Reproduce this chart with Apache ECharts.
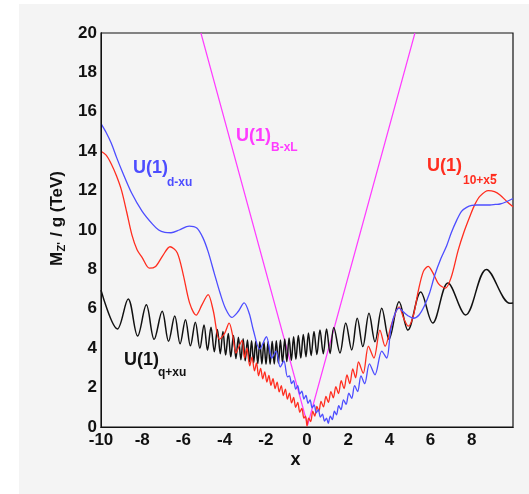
<!DOCTYPE html>
<html>
<head>
<meta charset="utf-8">
<script src="https://cdn.jsdelivr.net/npm/echarts@6/dist/echarts.min.js"></script>
<style>
  html, body { margin: 0; padding: 0; background: #ffffff; }
  #panel { position: absolute; left: 19px; top: 4px; width: 510px; height: 490px; background: #f4f4f4; }
  .layer { position: absolute; left: 0; top: 0; width: 529px; height: 494px; }
</style>
</head>
<body>
<div id="panel"></div>
<div class="layer" id="axes"></div>
<div class="layer" id="curves"></div>
<div class="layer" id="ticks"></div>
<script>
// Axis ranges and ticks
const xRange = [-10, 10];
const yRange = [0, 20];
const tickStep = 2;

// U(1)_{B-xL}: straight V
const pinkBxl = [[-5.15, 20], [0.03, 0.1], [5.24, 20]];

// U(1)_{d-xu}
const blueDxu = [
  [-10, 15.4], [-9.75, 14.95], [-9.5, 14.4], [-9.25, 13.7], [-9.0, 13.05], [-8.5, 11.85],
  [-8.0, 10.95], [-7.5, 10.3], [-7.2, 10.0], [-6.9, 9.88], [-6.6, 9.86], [-6.2, 10.0],
  [-5.72, 10.2], [-5.35, 10.1], [-5.05, 9.6], [-4.8, 8.9], [-4.5, 7.8], [-4.22, 6.8],
  [-3.95, 6.0], [-3.65, 5.56], [-3.35, 5.85], [-3.05, 6.3], [-2.8, 5.75], [-2.6, 4.9],
  [-2.3, 3.95], [-1.97, 4.58], [-1.71, 3.5], [-1.5, 3.85], [-1.3, 3.05], [-1.12, 3.35],
  [-0.95, 2.55], [-0.85, 2.6], [-0.75, 2.2], [-0.65, 2.35], [-0.55, 1.92], [-0.45, 2.1],
  [-0.35, 1.67], [-0.25, 1.82], [-0.15, 1.42], [-0.05, 1.6], [0.05, 1.2], [0.15, 1.38],
  [0.25, 0.97], [0.35, 1.12], [0.45, 0.72], [0.55, 0.88], [0.65, 0.5], [0.75, 0.65],
  [0.85, 0.3], [0.95, 0.45], [1.03, 0.18], [1.13, 0.55], [1.23, 0.38], [1.33, 0.8],
  [1.43, 0.62], [1.54, 1.08], [1.65, 0.88], [1.77, 1.38], [1.9, 1.15], [2.03, 1.72],
  [2.17, 1.45], [2.31, 2.1], [2.46, 1.8], [2.62, 2.6], [2.8, 2.2], [3.03, 3.2],
  [3.3, 2.65], [3.63, 3.85], [3.87, 3.5], [4.06, 4.9], [4.25, 5.7], [4.47, 6.03],
  [4.7, 5.82], [4.9, 5.65], [5.17, 5.52], [5.45, 5.7], [5.7, 6.15], [5.95, 6.8],
  [6.2, 7.7], [6.5, 8.55], [6.78, 9.2], [7.0, 9.85], [7.27, 10.5], [7.5, 10.95],
  [7.75, 11.15], [8.0, 11.25], [8.24, 11.27], [8.6, 11.27], [8.88, 11.27], [9.15, 11.3],
  [9.37, 11.32], [9.65, 11.42], [10, 11.6]
];

// U(1)_{10+x5bar}
const redTen = [
  [-10, 14.0], [-9.75, 13.8], [-9.5, 13.35], [-9.25, 12.75], [-9.0, 12.0], [-8.75, 10.9],
  [-8.5, 9.75], [-8.25, 9.0], [-8.0, 8.6], [-7.65, 8.06], [-7.35, 8.15], [-7.0, 8.7],
  [-6.65, 9.15], [-6.3, 8.85], [-6.0, 7.7], [-5.7, 6.3], [-5.38, 5.68], [-5.1, 6.2],
  [-4.8, 6.72], [-4.55, 5.9], [-4.25, 4.45], [-4.0, 4.75], [-3.78, 5.27], [-3.6, 4.6],
  [-3.45, 3.75], [-3.3, 4.1], [-3.15, 4.4], [-3.03, 3.5], [-2.92, 4.0], [-2.78, 3.1],
  [-2.67, 3.55], [-2.55, 2.85], [-2.45, 3.25], [-2.35, 2.6], [-2.25, 2.98], [-2.15, 2.45],
  [-2.05, 2.8], [-1.95, 2.28], [-1.85, 2.62], [-1.75, 2.12], [-1.65, 2.45], [-1.55, 1.95],
  [-1.45, 2.28], [-1.35, 1.78], [-1.25, 2.1], [-1.15, 1.6], [-1.05, 1.92], [-0.95, 1.42],
  [-0.85, 1.72], [-0.75, 1.22], [-0.65, 1.5], [-0.55, 1.0], [-0.45, 1.25], [-0.35, 0.75],
  [-0.25, 0.95], [-0.15, 0.45], [-0.07, 0.55], [0.0, 0.05], [0.08, 0.45], [0.18, 0.28],
  [0.28, 0.8], [0.38, 0.55], [0.48, 1.05], [0.58, 0.8], [0.68, 1.3], [0.8, 1.02],
  [0.92, 1.55], [1.04, 1.25], [1.16, 1.8], [1.28, 1.48], [1.4, 2.05], [1.53, 1.7],
  [1.66, 2.35], [1.8, 1.95], [1.94, 2.65], [2.08, 2.2], [2.22, 2.95], [2.36, 2.5],
  [2.5, 3.3], [2.73, 2.72], [2.98, 4.1], [3.25, 3.5], [3.54, 4.92], [3.79, 4.1],
  [4.1, 5.2], [4.47, 6.1], [4.7, 5.5], [4.92, 5.12], [5.15, 5.6], [5.4, 6.9],
  [5.65, 7.9], [5.88, 8.15], [6.1, 7.85], [6.4, 7.25], [6.72, 7.05], [7.0, 7.6],
  [7.34, 8.98], [7.62, 9.9], [7.91, 10.7], [8.15, 11.3], [8.4, 11.72], [8.8, 12.0],
  [9.1, 11.95], [9.37, 11.78], [9.7, 11.45], [10, 11.18]
];

// U(1)_{q+xu}: peaks and troughs of the oscillation
const blackQxu = [
  [-10, 6.95], [-9.2, 4.98], [-8.68, 6.5], [-8.22, 4.62], [-7.8, 6.2], [-7.42, 4.45],
  [-7.03, 5.87], [-6.72, 4.35], [-6.42, 5.63], [-6.16, 4.22], [-5.9, 5.45], [-5.66, 4.12],
  [-5.42, 5.32], [-5.2, 4.0], [-5.0, 5.18], [-4.83, 3.9], [-4.66, 5.06], [-4.5, 3.82],
  [-4.35, 4.95], [-4.21, 3.72], [-4.08, 4.85], [-3.95, 3.65], [-3.82, 4.75], [-3.7, 3.56],
  [-3.57, 4.65], [-3.45, 3.48], [-3.33, 4.56], [-3.21, 3.42], [-3.1, 4.48], [-3.0, 3.36],
  [-2.89, 4.42], [-2.79, 3.3], [-2.69, 4.38], [-2.59, 3.26], [-2.49, 4.35], [-2.39, 3.22],
  [-2.29, 4.33], [-2.19, 3.2], [-2.09, 4.32], [-1.99, 3.18], [-1.89, 4.33], [-1.79, 3.18],
  [-1.69, 4.35], [-1.59, 3.2], [-1.49, 4.38], [-1.39, 3.23], [-1.29, 4.42], [-1.19, 3.27],
  [-1.08, 4.47], [-0.98, 3.32], [-0.87, 4.52], [-0.76, 3.38], [-0.65, 4.58], [-0.54, 3.44],
  [-0.42, 4.64], [-0.3, 3.5], [-0.18, 4.7], [-0.05, 3.57], [0.07, 4.77], [0.2, 3.63],
  [0.34, 4.85], [0.48, 3.68], [0.63, 4.92], [0.79, 3.72], [0.95, 4.98], [1.12, 3.73],
  [1.3, 5.05], [1.6, 3.76], [1.88, 5.28], [2.17, 3.91], [2.44, 5.52], [2.71, 4.08],
  [3.01, 5.77], [3.3, 4.33], [3.63, 6.03], [3.98, 4.45], [4.47, 6.36], [4.9, 4.92],
  [5.52, 6.85], [6.1, 5.28], [6.84, 7.31], [7.7, 5.69], [8.71, 8.0], [9.85, 6.28],
  [10, 6.3]
];

const colors = { blue: '#4d4dff', red: '#ff2d1f', pink: '#ff3cff', black: '#111111' };
const FONT = '"Liberation Sans", Arial, sans-serif';
const GRID = { left: 101, right: 16, top: 33, bottom: 67 };

function lineSeries(name, data, color, width, smooth) {
  return {
    name, type: 'line', data, showSymbol: false, smooth, clip: true,
    lineStyle: { color, width }, emphasis: { disabled: true }, silent: true
  };
}

function label(text, x, y, size, color) {
  return {
    type: 'text', x, y, silent: true, z: 100,
    style: { text, fill: color, font: 'bold ' + size + 'px ' + FONT, textAlign: 'left', textVerticalAlign: 'middle' }
  };
}

// Frame, tick labels and curve labels
const axesChart = echarts.init(document.getElementById('axes'));
axesChart.setOption({
  animation: false,
  grid: Object.assign({ show: true, borderColor: '#111', borderWidth: 1.2, backgroundColor: 'transparent' }, GRID),
  xAxis: {
    type: 'value', min: xRange[0], max: xRange[1], interval: tickStep,
    axisLine: { show: true, onZero: false, lineStyle: { color: '#111' } },
    axisTick: { show: false },
    splitLine: { show: false },
    axisLabel: { showMaxLabel: false, margin: 5, color: '#111', fontWeight: 'bold', fontSize: 17, fontFamily: FONT }
  },
  yAxis: {
    type: 'value', min: yRange[0], max: yRange[1], interval: tickStep,
    axisLine: { show: true, onZero: false, lineStyle: { color: '#111' } },
    axisTick: { show: false },
    splitLine: { show: false },
    axisLabel: { margin: 4, color: '#111', fontWeight: 'bold', fontSize: 17, fontFamily: FONT }
  },
  series: [{ type: 'line', data: [] }],
  graphic: [
    {
      type: 'text', x: 295.5, y: 460, silent: true,
      style: { text: 'x', fill: '#111', font: 'bold 18px ' + FONT, textAlign: 'center', textVerticalAlign: 'middle' }
    },
    label('U(1)', 133, 168.5, 18, colors.blue),
    label('d-xu', 167, 182.5, 12, colors.blue),
    label('U(1)', 236, 136, 18, colors.pink),
    label('B-xL', 271, 148, 12, colors.pink),
    label('U(1)', 427, 166.5, 18, colors.red),
    label('10+x5', 463, 180.5, 12, colors.red),
    label('U(1)', 124, 360, 18, colors.black),
    label('q+xu', 158, 373, 12, colors.black)
  ]
});

// Curves on the same grid and scales, plus the rotated y title
const curvesChart = echarts.init(document.getElementById('curves'));
curvesChart.setOption({
  animation: false,
  grid: Object.assign({ show: false }, GRID),
  xAxis: { type: 'value', min: xRange[0], max: xRange[1], interval: tickStep, show: false },
  yAxis: { type: 'value', min: yRange[0], max: yRange[1], interval: tickStep, show: false },
  series: [
    lineSeries('B-xL', pinkBxl, colors.pink, 1.2, false),
    lineSeries('q+xu', blackQxu, colors.black, 1.5, 0.35),
    lineSeries('10+x5', redTen, colors.red, 1.3, 0.3),
    lineSeries('d-xu', blueDxu, colors.blue, 1.3, 0.3)
  ],
  graphic: [
    {
      type: 'group', x: 57, y: 266, rotation: Math.PI / 2, silent: true,
      children: [
        { type: 'text', x: 0, y: 0, style: { text: 'M', fill: '#111', font: 'bold 17px ' + FONT, textAlign: 'left', textVerticalAlign: 'middle' } },
        { type: 'text', x: 14.5, y: 5, style: { text: "Z'", fill: '#111', font: 'bold 11px ' + FONT, textAlign: 'left', textVerticalAlign: 'middle' } },
        { type: 'text', x: 24.5, y: 0, style: { text: ' / g (TeV)', fill: '#111', font: 'bold 17px ' + FONT, textAlign: 'left', textVerticalAlign: 'middle' } }
      ]
    },
    // bar over the 5 of the red subscript
    { type: 'line', silent: true, z: 100, shape: { x1: 490.8, y1: 174.5, x2: 496.8, y2: 174.5 }, style: { stroke: colors.red, lineWidth: 1.2 } }
  ]
});

// Inward major and minor ticks on their own layer
const ticksChart = echarts.init(document.getElementById('ticks'));
ticksChart.setOption({
  animation: false,
  grid: GRID,
  xAxis: {
    type: 'value', min: xRange[0], max: xRange[1], interval: tickStep,
    axisLine: { show: true, onZero: false, lineStyle: { color: '#111' } },
    axisTick: { show: true, inside: true, length: 12, lineStyle: { color: '#111' } },
    minorTick: { show: true, splitNumber: 4, length: 6, lineStyle: { color: '#111' } },
    axisLabel: { show: false },
    splitLine: { show: false }
  },
  yAxis: {
    type: 'value', min: yRange[0], max: yRange[1], interval: tickStep,
    axisLine: { show: true, onZero: false, lineStyle: { color: '#111' } },
    axisTick: { show: true, inside: true, length: 13, lineStyle: { color: '#111' } },
    minorTick: { show: true, splitNumber: 4, length: 7, lineStyle: { color: '#111' } },
    axisLabel: { show: false },
    splitLine: { show: false }
  },
  series: [{ type: 'line', data: pinkBxl, showSymbol: false, lineStyle: { opacity: 0 }, silent: true }]
});
</script>
</body>
</html>
